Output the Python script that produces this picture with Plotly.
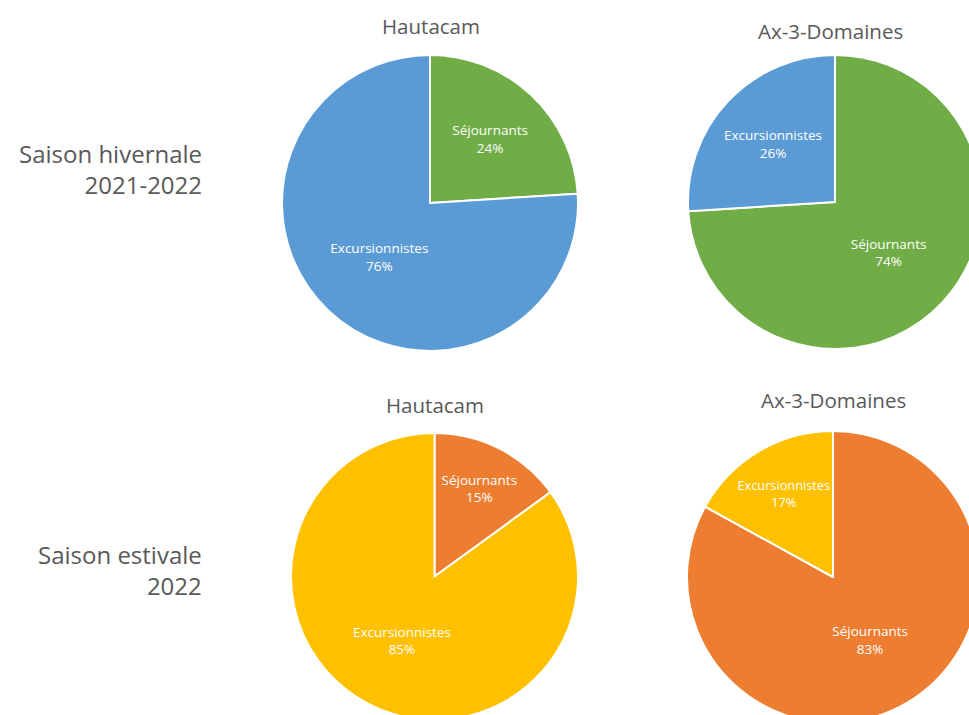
import plotly.graph_objects as go

W, H = 1000, 740

stations = ["Hautacam", "Ax-3-Domaines"]
seasons = ["Saison hivernale<br>2021-2022", "Saison estivale<br>2022"]
labels = ["Séjournants", "Excursionnistes"]

winter_hautacam = [24, 76]
winter_ax = [74, 26]
summer_hautacam = [15, 85]
summer_ax = [83, 17]

winter_colors = ["#70AD47", "#5B9BD5"]
summer_colors = ["#ED7D31", "#FFC000"]

# pie boxes in pixels (left, right, top, bottom)
boxes = [
    (282, 578, 55, 351),
    (688, 982, 55, 349),
    (291, 578, 433, 720),
    (687, 979, 431, 723),
]
values = [winter_hautacam, winter_ax, summer_hautacam, summer_ax]
colors = [winter_colors, winter_colors, summer_colors, summer_colors]

fig = go.Figure()
for (l, r, t, b), vals, cols in zip(boxes, values, colors):
    fig.add_trace(go.Pie(
        labels=labels, values=vals, sort=False, direction="clockwise", rotation=0,
        marker=dict(colors=cols, line=dict(color="white", width=2)),
        texttemplate="%{label}<br>%{value}%",
        textposition="inside", insidetextorientation="horizontal",
        textfont=dict(color="white", size=13.5, family="Open Sans"),
        hoverinfo="label+percent", showlegend=False,
        domain=dict(x=[l / W, r / W], y=[1 - b / H, 1 - t / H]),
    ))

title_pos = [(431, 26), (830, 31), (435, 405), (833, 400)]
title_text = [stations[0], stations[1], stations[0], stations[1]]
annotations = []
for (x, y), txt in zip(title_pos, title_text):
    annotations.append(dict(
        text=txt, x=x / W, y=1 - y / H, xref="paper", yref="paper",
        xanchor="center", yanchor="middle", showarrow=False,
        font=dict(size=20.5, color="#595959", family="Open Sans")))
for (y, txt) in zip([169, 570], seasons):
    annotations.append(dict(
        text=txt, x=204 / W, y=1 - y / H, xref="paper", yref="paper",
        xanchor="right", yanchor="middle", align="right", showarrow=False,
        font=dict(size=24, color="#595959", family="Open Sans")))

fig.update_layout(
    width=W, height=H, margin=dict(l=0, r=0, t=0, b=0),
    paper_bgcolor="white", plot_bgcolor="white",
    annotations=annotations,
)

fig.write_html(
    "out.html",
    config={"displayModeBar": False},
    post_script="document.body.style.margin='0';document.body.style.overflow='hidden';document.documentElement.style.overflow='hidden';",
)
